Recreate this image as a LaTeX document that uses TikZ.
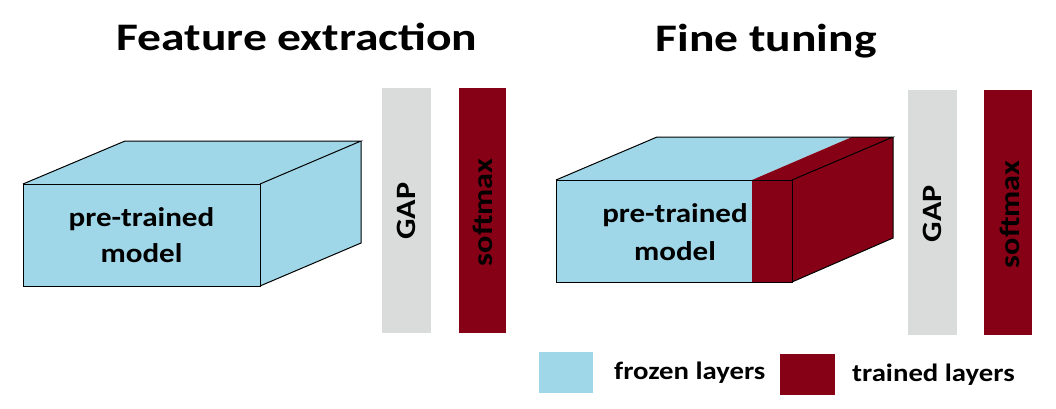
\documentclass[tikz,border=0pt]{standalone}
\usepackage{fontspec}
\setmainfont{Carlito}
\definecolor{frozen}{RGB}{159,215,232}
\definecolor{trained}{RGB}{134,0,22}
\definecolor{gapgray}{RGB}{218,220,219}
\newcommand{\hstretch}[2]{\scalebox{#1}[1]{#2}}
\begin{document}
\begin{tikzpicture}[x=1pt,y=-1pt,
  face/.style={draw=black,line width=1pt,line join=miter},
  title/.style={font=\fontsize{39}{44}\selectfont\bfseries,anchor=base,inner sep=0pt},
  boxtext/.style={font=\fontsize{27}{36}\selectfont\bfseries,anchor=base,inner sep=0pt},
  bartext/.style={font=\fontsize{28}{32}\selectfont\bfseries,rotate=90,inner sep=0pt,text=black},
  legtext/.style={font=\fontsize{25}{28}\selectfont\bfseries,anchor=base west,inner sep=0pt}]
\useasboundingbox (0,0) rectangle (1056,409);
% titles
\node[title] (t1) at (297,51) {\hstretch{1.22}{Feature extraction}};
\node[title] (t2) at (766,52) {\hstretch{1.22}{Fine tuning}};
% left cube
\fill[frozen] (23,184) -- (125,141) -- (361,141) -- (361,243) -- (260,286) -- (23,286) -- cycle;
\draw[face] (23,184) rectangle (260,286);
\draw[face] (23,184) -- (125,141) -- (361,141) -- (260,184);
\draw[face] (260,286) -- (361,243) -- (361,141);
\node[boxtext] (m1a) at (141.5,226) {\hstretch{1.15}{pre-trained}};
\node[boxtext] (m1b) at (141.5,262) {\hstretch{1.15}{model}};
% left bars
\fill[gapgray] (382,88) rectangle (431,333);
\node[bartext] (g1) at (406,211) {\hstretch{1.15}{GAP}};
\fill[trained] (459,88) rectangle (506,333);
\node[bartext] (s1) at (482.5,212.5) {\hstretch{1.15}{softmax}};
% right cube
\fill[frozen] (556,180) -- (657,137) -- (852,137) -- (752,180) -- (752,282) -- (556,282) -- cycle;
\fill[trained] (752,180) -- (852,137) -- (893,137) -- (893,238) -- (792,282) -- (752,282) -- cycle;
\draw[face] (556,180) rectangle (792,282);
\draw[face] (556,180) -- (657,137) -- (893,137) -- (792,180);
\draw[face] (792,282) -- (893,238) -- (893,137);
\node[boxtext] (m2a) at (675,222) {\hstretch{1.15}{pre-trained}};
\node[boxtext] (m2b) at (675,260) {\hstretch{1.15}{model}};
% right bars
\fill[gapgray] (908,90) rectangle (957,335);
\node[bartext] (g2) at (932,213.5) {\hstretch{1.15}{GAP}};
\fill[trained] (984,90) rectangle (1032,335);
\node[bartext] (s2) at (1010,214.5) {\hstretch{1.15}{softmax}};
% legend
\fill[frozen] (539,352) rectangle (593,393);
\node[legtext] (l1) at (614,379) {\hstretch{1.15}{frozen layers}};
\fill[trained] (780,354) rectangle (835,395);
\node[legtext] (l2) at (852,381) {\hstretch{1.15}{trained layers}};
\end{tikzpicture}
\end{document}
